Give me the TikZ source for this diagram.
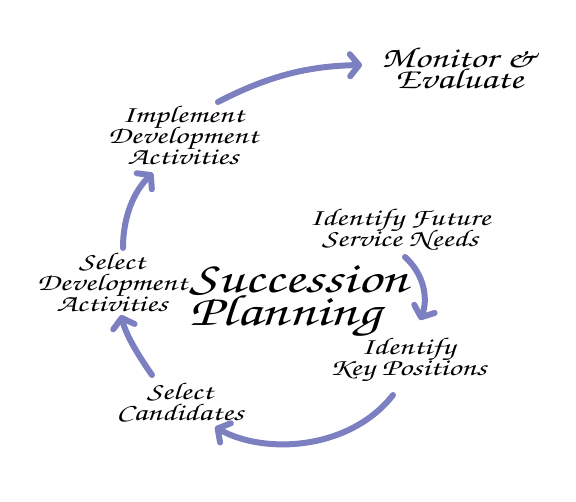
\documentclass[tikz,border=0pt]{standalone}
\usepackage[T1]{fontenc}
\usepackage{tikz}
\usetikzlibrary{arrows.meta,positioning}
\definecolor{arrowblue}{RGB}{124,127,192}
\newcommand{\hand}{\fontencoding{T1}\fontfamily{pzc}\fontseries{mb}\fontshape{it}\selectfont\lineskiplimit=-100pt\lineskip=0pt}

\begin{document}
\begin{tikzpicture}[x=1pt,y=-1pt,
		step label/.style={align=center,font=\hand\fontsize{24}{21}\selectfont,inner sep=0pt,xscale=1.35,transform shape},
		flow/.style={line width=6pt,color=arrowblue,line cap=round,
			-{Straight Barb[length=9pt,width=22pt,line cap=round,line join=round]}}]
		\useasboundingbox (0,0) rectangle (576,501);
		
		\node[step label,font=\hand\fontsize{29}{21}\selectfont] (monitor) at (459,68) {Monitor \&\\Evaluate};
		\node[step label] (implement) at (183,135) {Implement\\Development\\Activities};
		\node[step label] (future) at (400,230) {Identify Future\\Service Needs};
		\node[step label] (selectdev) at (112,282) {Select\\Development\\Activities};
		\node[step label] (keypos) at (408,360) {Identify\\Key Positions};
		\node[step label] (candidates) at (180,402) {Select\\Candidates};
		\node[step label,align=left,font=\hand\fontsize{44}{33}\selectfont] (title) at (299,302) {Succession\\Planning};
		
		\coordinate (a1) at (218,102);
		\coordinate (b1) at (362,65);
		\coordinate (a2) at (123,248);
		\coordinate (b2) at (153,173);
		\coordinate (a3) at (152,375);
		\coordinate (b3) at (121,315);
		\coordinate (a4) at (393,395);
		\coordinate (b4) at (215,427);
		\coordinate (a5) at (405,257);
		\coordinate (b5) at (420,320);
		
		\draw[flow] (a1) .. controls (270,75) and (310,66) .. (b1);
		\draw[flow] (a2) .. controls (123,215) and (135,190) .. (b2);
		\draw[flow] (a3) .. controls (138,355) and (126,335) .. (b3);
		\draw[flow] (a4) .. controls (350,450) and (265,455) .. (b4);
		\draw[flow] (a5) .. controls (425,275) and (428,300) .. (b5);
\end{tikzpicture}
\end{document}
